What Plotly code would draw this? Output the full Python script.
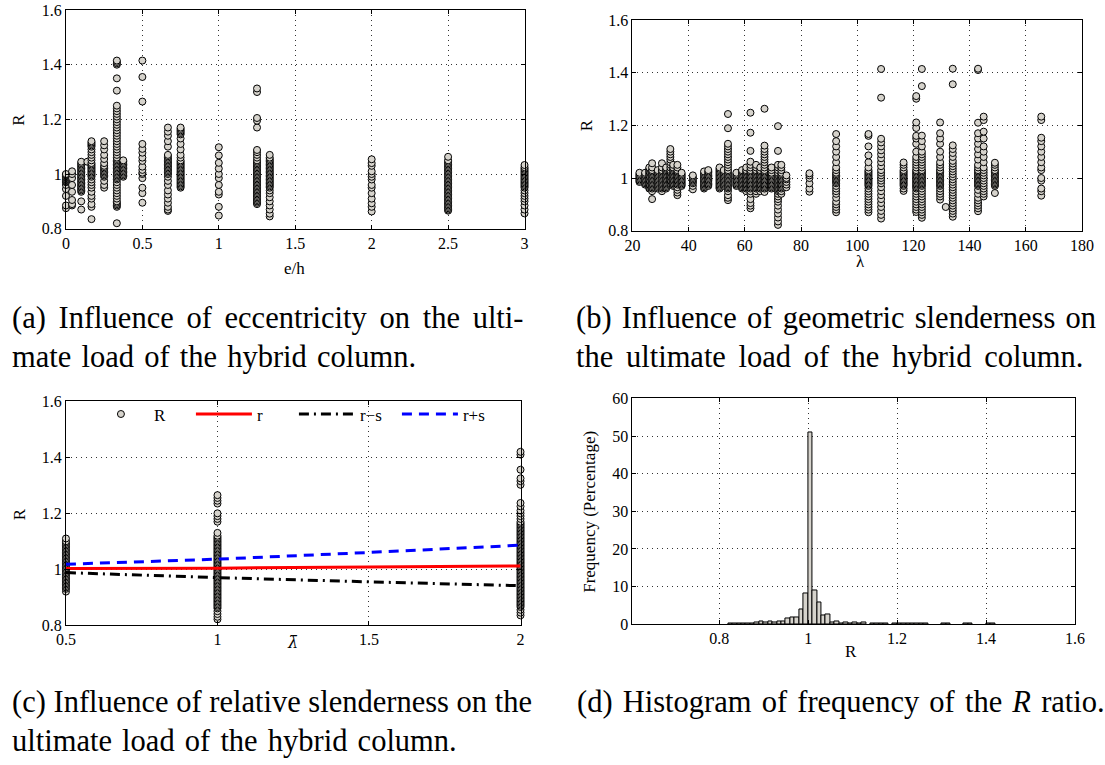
import plotly.graph_objects as go

# ---------------------------------------------------------------- data
# (a) R ratio grouped by eccentricity e/h
eh_groups = [0.0, 0.04, 0.1, 0.14, 0.167, 0.25, 0.333, 0.375, 0.5, 0.667,
             0.75, 1.0, 1.25, 1.333, 2.0, 2.5, 3.0]
R_by_eh = [
    [0.875, 0.885, 0.92, 0.945, 0.96, 0.97, 0.972, 0.975, 0.978, 0.98, 0.982,
     0.985, 0.988, 0.99, 0.992, 0.995, 0.998, 1.0],
    [0.885, 0.89, 0.905, 0.935, 0.96, 0.985, 1.0, 1.01],
    [0.87, 0.9, 0.935, 0.94, 0.945, 0.95, 0.955, 0.96, 0.965, 0.97, 0.975, 0.98,
     0.985, 0.99, 0.995, 1.0, 1.005, 1.01, 1.015, 1.02, 1.025, 1.03, 1.035, 1.04,
     1.045],
    [1.045],
    [0.835, 0.88, 0.89, 0.91, 0.92, 0.935, 0.95, 0.96, 0.97, 0.98, 0.99, 0.995,
     1.0, 1.005, 1.01, 1.015, 1.02, 1.025, 1.03, 1.035, 1.04, 1.05, 1.06, 1.07,
     1.08, 1.09, 1.1, 1.105, 1.11, 1.115, 1.12],
    [0.95, 0.96, 0.975, 0.99, 0.995, 1.0, 1.005, 1.01, 1.015, 1.02, 1.025, 1.03,
     1.04, 1.055, 1.07, 1.09, 1.105, 1.12],
    [0.82, 0.88, 0.885, 0.89, 0.895, 0.9, 0.91, 0.92, 0.93, 0.94, 0.95, 0.96,
     0.97, 0.98, 0.985, 0.99, 0.995, 1.0, 1.005, 1.01, 1.015, 1.02, 1.025, 1.03,
     1.035, 1.04, 1.045, 1.05, 1.055, 1.06, 1.07, 1.08, 1.09, 1.1, 1.11, 1.12,
     1.13, 1.14, 1.15, 1.16, 1.17, 1.18, 1.19, 1.2, 1.21, 1.22, 1.23, 1.24, 1.25,
     1.305, 1.35, 1.40, 1.405, 1.41, 1.415],
    [0.99, 0.995, 1.0, 1.005, 1.01, 1.015, 1.02, 1.025, 1.03, 1.035, 1.04, 1.045, 1.05],
    [0.895, 0.93, 0.95, 0.985, 1.0, 1.005, 1.015, 1.027, 1.048, 1.06, 1.078,
     1.092, 1.11, 1.265, 1.355, 1.415],
    [0.865, 0.87, 0.88, 0.895, 0.91, 0.925, 0.94, 0.96, 0.975, 0.99, 1.0, 1.005,
     1.01, 1.015, 1.02, 1.025, 1.03, 1.035, 1.04, 1.045, 1.05, 1.055, 1.06,
     1.065, 1.07, 1.1, 1.12, 1.14, 1.155, 1.17],
    [0.95, 0.955, 0.96, 0.965, 0.97, 0.975, 0.98, 0.985, 0.99, 0.995, 1.0,
     1.005, 1.01, 1.015, 1.02, 1.025, 1.03, 1.035, 1.04, 1.045, 1.05, 1.06, 1.07,
     1.09, 1.11, 1.13, 1.145, 1.15, 1.155, 1.16, 1.165, 1.17],
    [0.848, 0.88, 0.925, 0.935, 0.96, 0.985, 1.0, 1.02, 1.041, 1.068, 1.098],
    [0.89, 0.895, 0.9, 0.905, 0.91, 0.915, 0.92, 0.925, 0.93, 0.935, 0.94, 0.945,
     0.95, 0.955, 0.96, 0.965, 0.97, 0.975, 0.98, 0.985, 0.99, 0.995, 1.0, 1.005,
     1.01, 1.015, 1.02, 1.025, 1.03, 1.035, 1.04, 1.045, 1.05, 1.06, 1.07, 1.08,
     1.088, 1.17, 1.195, 1.205, 1.3, 1.313],
    [0.845, 0.855, 0.87, 0.885, 0.9, 0.915, 0.93, 0.94, 0.95, 0.955, 0.96, 0.965,
     0.97, 0.975, 0.98, 0.985, 0.99, 0.995, 1.0, 1.005, 1.01, 1.015, 1.02, 1.025,
     1.03, 1.035, 1.04, 1.045, 1.05, 1.055, 1.06, 1.07],
    [0.863, 0.88, 0.893, 0.91, 0.93, 0.95, 0.96, 0.98, 0.99, 1.0, 1.01, 1.03,
     1.04, 1.054],
    [0.866, 0.87, 0.875, 0.88, 0.885, 0.89, 0.895, 0.9, 0.905, 0.91, 0.915, 0.92,
     0.925, 0.93, 0.935, 0.94, 0.945, 0.95, 0.955, 0.96, 0.965, 0.97, 0.975, 0.98,
     0.985, 0.99, 0.995, 1.0, 1.005, 1.01, 1.015, 1.02, 1.025, 1.03, 1.035, 1.04,
     1.045, 1.05, 1.063],
    [0.856, 0.87, 0.885, 0.9, 0.91, 0.92, 0.93, 0.94, 0.95, 0.955, 0.96, 0.965,
     0.97, 0.975, 0.98, 0.985, 0.99, 0.995, 1.0, 1.005, 1.01, 1.015, 1.02, 1.025,
     1.033],
]

# (b) R ratio grouped by geometric slenderness lambda
lam_groups = [22.5, 24.5, 26, 27, 29, 30.5, 32, 33.5, 34.5, 36, 37.5, 41.5,
              45.5, 47, 51, 52.5, 54, 57, 59, 60.5, 62, 64, 65.5, 67, 69.5,
              71.8, 73, 74.8, 83, 92.5, 104, 108.5, 116.5, 121, 123, 129.5,
              131.5, 134, 143, 145, 149, 165.5]
R_by_lam = [
    [0.985, 0.99, 0.995, 1.0, 1.005, 1.01, 1.015, 1.02],
    [0.975, 0.98, 0.985, 0.99, 0.995, 1.0, 1.005, 1.01, 1.015, 1.02],
    [0.96, 0.965, 0.97, 0.975, 0.98, 0.985, 0.99, 0.995, 1.0, 1.005, 1.01,
     1.015, 1.02, 1.025, 1.03, 1.035, 1.04],
    [0.92, 0.95, 0.96, 0.965, 0.97, 0.975, 0.98, 0.985, 0.99, 0.995, 1.0, 1.005,
     1.01, 1.015, 1.02, 1.025, 1.03, 1.04, 1.056],
    [0.96, 0.965, 0.97, 0.975, 0.98, 0.985, 0.99, 0.995, 1.0, 1.005, 1.01,
     1.015, 1.02, 1.025, 1.03],
    [0.95, 0.96, 0.965, 0.97, 0.975, 0.98, 0.985, 0.99, 0.995, 1.0, 1.005, 1.01,
     1.015, 1.02, 1.025, 1.03, 1.04, 1.056],
    [0.96, 0.965, 0.97, 0.975, 0.98, 0.985, 0.99, 0.995, 1.0, 1.005, 1.01,
     1.015, 1.02, 1.025, 1.03, 1.035, 1.04],
    [0.98, 0.985, 0.99, 0.995, 1.0, 1.005, 1.01, 1.015, 1.02, 1.025, 1.03, 1.04,
     1.05, 1.06, 1.07, 1.08, 1.09, 1.1, 1.11],
    [0.97, 0.975, 0.98, 0.985, 0.99, 0.995, 1.0, 1.005, 1.01, 1.015, 1.02,
     1.025, 1.03, 1.035, 1.04, 1.05],
    [0.935, 0.945, 0.955, 0.965, 0.975, 0.98, 0.985, 0.99, 0.995, 1.0, 1.005,
     1.01, 1.015, 1.02, 1.025, 1.03, 1.04, 1.05],
    [0.97, 0.975, 0.98, 0.985, 0.99, 0.995, 1.0, 1.005, 1.01, 1.015, 1.02],
    [0.957, 0.97, 0.98, 0.985, 0.99, 0.995, 1.0, 1.005, 1.01],
    [0.96, 0.965, 0.97, 0.975, 0.98, 0.985, 0.99, 0.995, 1.0, 1.005, 1.01,
     1.015, 1.02, 1.025],
    [0.97, 0.975, 0.98, 0.985, 0.99, 0.995, 1.0, 1.005, 1.01, 1.015, 1.02,
     1.025, 1.03],
    [0.96, 0.965, 0.97, 0.975, 0.98, 0.985, 0.99, 0.995, 1.0, 1.005, 1.01,
     1.015, 1.02, 1.025, 1.03, 1.035, 1.04],
    [0.97, 0.975, 0.98, 0.985, 0.99, 0.995, 1.0, 1.005, 1.01, 1.015, 1.02,
     1.025, 1.03],
    [0.916, 0.925, 0.935, 0.95, 0.96, 0.965, 0.97, 0.975, 0.98, 0.985, 0.99,
     0.995, 1.0, 1.005, 1.01, 1.015, 1.02, 1.025, 1.03, 1.04, 1.05, 1.06, 1.07,
     1.08, 1.09, 1.1, 1.11, 1.12, 1.13, 1.189, 1.243],
    [0.97, 0.975, 0.98, 0.985, 0.99, 0.995, 1.0, 1.005, 1.01, 1.015, 1.02],
    [0.96, 0.965, 0.97, 0.975, 0.98, 0.985, 0.99, 0.995, 1.0, 1.005, 1.01,
     1.015, 1.02, 1.025, 1.03],
    [0.95, 0.96, 0.965, 0.97, 0.975, 0.98, 0.985, 0.99, 0.995, 1.0, 1.005, 1.01,
     1.015, 1.02, 1.025, 1.03, 1.04],
    [0.885, 0.895, 0.905, 0.92, 0.94, 0.95, 0.96, 0.965, 0.97, 0.975, 0.98,
     0.985, 0.99, 0.995, 1.0, 1.005, 1.01, 1.015, 1.02, 1.025, 1.03, 1.04, 1.05,
     1.062, 1.103, 1.172, 1.248],
    [0.94, 0.95, 0.96, 0.965, 0.97, 0.975, 0.98, 0.985, 0.99, 0.995, 1.0, 1.005,
     1.01, 1.015, 1.02, 1.025, 1.03, 1.04, 1.05],
    [0.95, 0.96, 0.965, 0.97, 0.975, 0.98, 0.985, 0.99, 0.995, 1.0, 1.005, 1.01,
     1.015, 1.02, 1.025, 1.03, 1.04],
    [0.947, 0.96, 0.965, 0.97, 0.975, 0.98, 0.985, 0.99, 0.995, 1.0, 1.005,
     1.01, 1.015, 1.02, 1.025, 1.03, 1.04, 1.05, 1.06, 1.07, 1.08, 1.09, 1.1,
     1.11, 1.123, 1.263],
    [0.96, 0.965, 0.97, 0.975, 0.98, 0.985, 0.99, 0.995, 1.0, 1.005, 1.01,
     1.015, 1.02, 1.03, 1.04],
    [0.822, 0.835, 0.85, 0.865, 0.88, 0.895, 0.91, 0.92, 0.93, 0.94, 0.95, 0.955,
     0.96, 0.965, 0.97, 0.975, 0.98, 0.985, 0.99, 0.995, 1.0, 1.005, 1.01, 1.015,
     1.02, 1.03, 1.04, 1.05, 1.103, 1.197],
    [0.94, 0.95, 0.96, 0.965, 0.97, 0.975, 0.98, 0.985, 0.99, 0.995, 1.0, 1.005,
     1.01, 1.015, 1.02, 1.03, 1.04, 1.05],
    [0.965, 0.975, 0.985, 0.995, 1.0, 1.01],
    [0.948, 0.96, 0.98, 1.0, 1.01, 1.018],
    [0.87, 0.88, 0.89, 0.9, 0.91, 0.925, 0.94, 0.95, 0.96, 0.97, 0.98, 0.985,
     0.99, 0.995, 1.0, 1.005, 1.01, 1.015, 1.02, 1.03, 1.04, 1.06, 1.08, 1.1,
     1.12, 1.14, 1.167],
    [0.87, 0.88, 0.89, 0.9, 0.91, 0.92, 0.93, 0.94, 0.95, 0.96, 0.97, 0.975,
     0.98, 0.985, 0.99, 0.995, 1.0, 1.005, 1.01, 1.015, 1.02, 1.025, 1.03, 1.04,
     1.06, 1.086, 1.12, 1.16, 1.167],
    [0.846, 0.86, 0.875, 0.89, 0.905, 0.92, 0.935, 0.95, 0.965, 0.98, 0.99, 1.0,
     1.01, 1.02, 1.03, 1.045, 1.06, 1.075, 1.09, 1.105, 1.12, 1.135, 1.149,
     1.305, 1.414],
    [0.951, 0.96, 0.97, 0.975, 0.98, 0.985, 0.99, 0.995, 1.0, 1.005, 1.01,
     1.015, 1.02, 1.025, 1.03, 1.04, 1.05, 1.059],
    [0.871, 0.88, 0.89, 0.9, 0.91, 0.92, 0.93, 0.94, 0.95, 0.96, 0.965, 0.97,
     0.975, 0.98, 0.985, 0.99, 0.995, 1.0, 1.005, 1.01, 1.015, 1.02, 1.025, 1.03,
     1.04, 1.05, 1.06, 1.07, 1.08, 1.1, 1.13, 1.15, 1.16, 1.19, 1.211, 1.301,
     1.311],
    [0.849, 0.86, 0.87, 0.88, 0.89, 0.9, 0.91, 0.92, 0.93, 0.94, 0.95, 0.96,
     0.97, 0.975, 0.98, 0.985, 0.99, 0.995, 1.0, 1.005, 1.01, 1.015, 1.02, 1.025,
     1.03, 1.04, 1.05, 1.06, 1.07, 1.08, 1.09, 1.1, 1.12, 1.14, 1.161, 1.349,
     1.414],
    [0.918, 0.93, 0.94, 0.95, 0.96, 0.97, 0.975, 0.98, 0.985, 0.99, 0.995, 1.0,
     1.005, 1.01, 1.015, 1.02, 1.025, 1.03, 1.04, 1.05, 1.06, 1.08, 1.1, 1.13,
     1.15, 1.17, 1.211],
    [0.89],
    [0.853, 0.865, 0.875, 0.885, 0.895, 0.905, 0.915, 0.925, 0.935, 0.945, 0.955,
     0.965, 0.975, 0.985, 0.995, 1.005, 1.015, 1.025, 1.035, 1.045, 1.055, 1.065,
     1.08, 1.095, 1.11, 1.124, 1.356, 1.415],
    [0.874, 0.885, 0.895, 0.905, 0.915, 0.925, 0.94, 0.955, 0.97, 0.975, 0.98,
     0.985, 0.99, 0.995, 1.0, 1.005, 1.01, 1.015, 1.02, 1.025, 1.03, 1.04, 1.05,
     1.07, 1.09, 1.11, 1.13, 1.15, 1.17, 1.21, 1.41, 1.415],
    [0.93, 0.94, 0.95, 0.96, 0.97, 0.98, 0.99, 1.0, 1.01, 1.02, 1.03, 1.04, 1.06,
     1.08, 1.1, 1.12, 1.15, 1.176, 1.22, 1.233],
    [0.943, 0.97, 0.975, 0.98, 0.985, 0.99, 0.995, 1.0, 1.005, 1.01, 1.015,
     1.02, 1.025, 1.03, 1.04, 1.05, 1.058],
    [0.933, 0.95, 0.96, 0.99, 1.0, 1.03, 1.04, 1.06, 1.08, 1.1, 1.12, 1.14,
     1.153, 1.22, 1.233],
]

# (c) R ratio grouped by relative slenderness, with mean and +/- one std. dev.
lamrel_groups = [0.5, 1.0, 2.0]
R_by_lamrel = [
    [0.92, 0.93, 0.935, 0.94, 0.945, 0.95, 0.955, 0.96, 0.965, 0.97, 0.975,
     0.98, 0.985, 0.99, 0.995, 1.0, 1.005, 1.01, 1.015, 1.02, 1.025, 1.03, 1.035,
     1.04, 1.045, 1.05, 1.055, 1.06, 1.065, 1.07, 1.075, 1.08, 1.085, 1.09,
     1.095, 1.1, 1.11],
    [0.821, 0.83, 0.84, 0.85, 0.86, 0.865, 0.87, 0.875, 0.88, 0.885, 0.89, 0.895,
     0.9, 0.905, 0.91, 0.915, 0.92, 0.925, 0.93, 0.935, 0.94, 0.945, 0.95, 0.955,
     0.96, 0.965, 0.97, 0.975, 0.98, 0.985, 0.99, 0.995, 1.0, 1.005, 1.01, 1.015,
     1.02, 1.025, 1.03, 1.035, 1.04, 1.045, 1.05, 1.055, 1.06, 1.065, 1.07, 1.075,
     1.08, 1.085, 1.09, 1.095, 1.1, 1.105, 1.11, 1.115, 1.12, 1.13, 1.17, 1.18,
     1.19, 1.2, 1.235, 1.245, 1.255, 1.265],
    [0.835, 0.845, 0.855, 0.865, 0.87, 0.875, 0.88, 0.885, 0.89, 0.895, 0.9,
     0.905, 0.91, 0.915, 0.92, 0.925, 0.93, 0.935, 0.94, 0.945, 0.95, 0.955, 0.96,
     0.965, 0.97, 0.975, 0.98, 0.985, 0.99, 0.995, 1.0, 1.005, 1.01, 1.015, 1.02,
     1.025, 1.03, 1.035, 1.04, 1.045, 1.05, 1.055, 1.06, 1.065, 1.07, 1.075, 1.08,
     1.085, 1.09, 1.095, 1.1, 1.105, 1.11, 1.115, 1.12, 1.125, 1.13, 1.135, 1.14,
     1.145, 1.15, 1.155, 1.16, 1.165, 1.17, 1.18, 1.19, 1.2, 1.21, 1.225, 1.237,
     1.302, 1.315, 1.325, 1.356, 1.41, 1.42],
]
lamrel_fit = [0.5, 1.0, 1.5, 2.0]
r_mean = [1.003, 1.004, 1.008, 1.012]
r_minus_s = [0.988, 0.970, 0.955, 0.941]
r_plus_s = [1.018, 1.036, 1.060, 1.086]

# (d) histogram of R: bin centres (width 0.01) and frequency in percent
bin_centers = [0.825, 0.835, 0.845, 0.855, 0.865, 0.875, 0.885, 0.895, 0.905,
               0.915, 0.925, 0.935, 0.945, 0.955, 0.965, 0.975, 0.985, 0.995,
               1.005, 1.015, 1.025, 1.035, 1.045, 1.055, 1.065, 1.075, 1.085,
               1.095, 1.105, 1.115, 1.125, 1.145, 1.155, 1.165, 1.175, 1.195,
               1.205, 1.215, 1.225, 1.235, 1.245, 1.255, 1.265, 1.305, 1.315,
               1.355, 1.365, 1.405, 1.415]
freq_pct = [0.15, 0.15, 0.15, 0.15, 0.15, 0.2, 0.5, 0.75, 0.45, 0.75, 0.45,
            0.75, 0.8, 1.5, 1.85, 1.85, 4.0, 8.2, 51.0, 8.9, 5.8, 2.3, 2.65,
            0.55, 0.85, 0.3, 0.5, 0.25, 0.5, 0.25, 0.45, 0.15, 0.15, 0.15, 0.15,
            0.2, 0.2, 0.15, 0.15, 0.15, 0.15, 0.15, 0.15, 0.2, 0.2, 0.2, 0.2,
            0.2, 0.2]

# ---------------------------------------------------------------- helpers
W, H = 1105, 765
# the drawing surface the page actually gives the figure (inside its body margin)
OX, OY, CW, CH = 8, 8, 1084, 749
SERIF = "Liberation Serif"
FILL = "#d6d3cc"


def fx(p):
    return max(0.0, (p - OX) / CW)


def fy(p):
    return 1 - (p - OY) / CH


def expand(groups, values):
    xs, ys = [], []
    for g, vals in zip(groups, values):
        for v in vals:
            xs.append(g)
            ys.append(v)
    return xs, ys


marker_style = dict(symbol="circle", size=7, color=FILL,
                    line=dict(color="black", width=1))

fig = go.Figure()

xa, ya = expand(eh_groups, R_by_eh)
fig.add_trace(go.Scatter(x=xa, y=ya, mode="markers", marker=marker_style,
                         cliponaxis=False, showlegend=False,
                         xaxis="x", yaxis="y"))

xb, yb = expand(lam_groups, R_by_lam)
fig.add_trace(go.Scatter(x=xb, y=yb, mode="markers", marker=marker_style,
                         cliponaxis=False, showlegend=False,
                         xaxis="x2", yaxis="y2"))

xc, yc = expand(lamrel_groups, R_by_lamrel)
fig.add_trace(go.Scatter(x=xc, y=yc, mode="markers", marker=marker_style,
                         cliponaxis=False, name="R",
                         xaxis="x3", yaxis="y3"))
fig.add_trace(go.Scatter(x=lamrel_fit, y=r_mean, mode="lines", name="r",
                         line=dict(color="red", width=3),
                         xaxis="x3", yaxis="y3"))
fig.add_trace(go.Scatter(x=lamrel_fit, y=r_minus_s, mode="lines", name="r\u2212s",
                         line=dict(color="black", width=3,
                                   dash="10px,5px,2px,5px"),
                         xaxis="x3", yaxis="y3"))
fig.add_trace(go.Scatter(x=lamrel_fit, y=r_plus_s, mode="lines", name="r+s",
                         line=dict(color="blue", width=3, dash="10px,7px"),
                         xaxis="x3", yaxis="y3"))

fig.add_trace(go.Bar(x=bin_centers, y=freq_pct, width=0.01,
                     marker=dict(color=FILL, line=dict(color="black", width=1)),
                     showlegend=False, xaxis="x4", yaxis="y4"))

axis_common = dict(
    showline=True, linecolor="black", linewidth=1, mirror="ticks",
    ticks="inside", ticklen=4, tickcolor="black",
    showgrid=True, gridcolor="#333", gridwidth=1, griddash="1px,4px",
    zeroline=False, tickfont=dict(family=SERIF, size=16, color="black"),
)


def ax(domain, rng, vals, texts, anchor):
    d = dict(axis_common)
    d.update(domain=domain, range=rng, tickvals=vals, ticktext=texts,
             anchor=anchor)
    return d


y_vals = [0.8, 1.0, 1.2, 1.4, 1.6]
y_txt = ["0.8", "1", "1.2", "1.4", "1.6"]

fig.update_layout(
    width=W, height=H, margin=dict(l=0, r=0, t=0, b=0),
    paper_bgcolor="white", plot_bgcolor="white",
    xaxis=ax([fx(64), fx(523)], [0, 3], [0, 0.5, 1, 1.5, 2, 2.5, 3],
             ["0", "0.5", "1", "1.5", "2", "2.5", "3"], "y"),
    yaxis=ax([fy(229), fy(10)], [0.8, 1.6], y_vals, y_txt, "x"),
    xaxis2=ax([fx(631), fx(1081)], [20, 180], [20, 40, 60, 80, 100, 120, 140, 160, 180],
              ["20", "40", "60", "80", "100", "120", "140", "160", "180"], "y2"),
    yaxis2=ax([fy(231), fy(20)], [0.8, 1.6], y_vals, y_txt, "x2"),
    xaxis3=ax([fx(64), fx(519)], [0.5, 2], [0.5, 1, 1.5, 2],
              ["0.5", "1", "1.5", "2"], "y3"),
    yaxis3=ax([fy(626), fy(402)], [0.8, 1.6], y_vals, y_txt, "x3"),
    xaxis4=ax([fx(631), fx(1074)], [0.605, 1.6], [0.8, 1.0, 1.2, 1.4, 1.6],
              ["0.8", "1", "1.2", "1.4", "1.6"], "y4"),
    yaxis4=ax([fy(625), fy(399)], [0, 60], [0, 10, 20, 30, 40, 50, 60],
              ["0", "10", "20", "30", "40", "50", "60"], "x4"),
    bargap=0,
    legend=dict(orientation="h", x=fx(86), y=fy(415), xanchor="left",
                yanchor="middle", bgcolor="rgba(0,0,0,0)",
                font=dict(family=SERIF, size=17, color="black"),
                itemwidth=56, entrywidth=32, entrywidthmode="pixels",
                traceorder="normal"),
)

# axis titles
titles = [
    ("e/h", 293, 269, 0, 17, SERIF),
    ("R", 17, 120, -90, 17, SERIF),
    ("\u03bb", 859, 262, 0, 17, SERIF),
    ("R", 585, 125, -90, 17, SERIF),
    ("<i>\u03bb\u0304</i>", 291, 643, 0, 16, "DejaVu Serif"),
    ("R", 17, 515, -90, 17, SERIF),
    ("R", 850, 652, 0, 17, SERIF),
    ("Frequency (Percentage)", 588, 512, -90, 17, SERIF),
]
for txt, x, y, ang, sz, fam in titles:
    fig.add_annotation(text=txt, x=fx(x), y=fy(y), xref="paper", yref="paper",
                       showarrow=False, textangle=ang, xanchor="center",
                       yanchor="middle",
                       font=dict(family=fam, size=sz, color="black"))

# sub-figure captions; word gaps widened so each line fills its column
GAP_WIDE = " \u2006"
GAP_MID = " \u200a"
captions = [
    ("(a) Influence of eccentricity on the ulti-", GAP_WIDE, 4, 318),
    ("mate load of the hybrid column.", GAP_MID, 4, 357),
    ("(b) Influence of geometric slenderness on", GAP_MID, 573, 318),
    ("the ultimate load of the hybrid column.", GAP_WIDE, 573, 357),
    ("(c) Influence of relative slenderness on the", " ", 4, 703),
    ("ultimate load of the hybrid column.", GAP_MID, 4, 742),
    ("(d) Histogram of frequency of the <i>R</i> ratio.", GAP_MID, 574, 703),
]
for txt, gap, x, y in captions:
    fig.add_annotation(text=txt.replace(" ", gap), x=fx(x), y=fy(y),
                       xref="paper", yref="paper",
                       showarrow=False, xanchor="left", yanchor="middle",
                       font=dict(family=SERIF, size=30.5, color="black"))

fig.write_html("out.html")
